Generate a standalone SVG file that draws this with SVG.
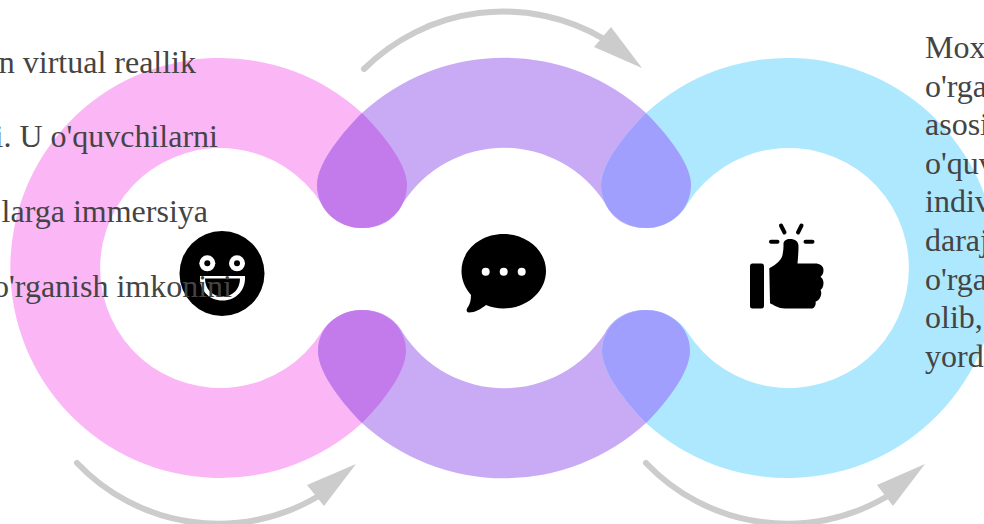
<svg xmlns="http://www.w3.org/2000/svg" width="984" height="524" viewBox="0 0 984 524">
<style>
.t{font-family:"Liberation Serif","Times New Roman",serif;font-size:32px;fill:#444}
.e{text-anchor:end}
.a{fill:none;stroke:#ccc;stroke-width:6;stroke-linecap:round}
.h{fill:#ccc}
.k{fill:#000}
.w{fill:#fff}
.s{fill:none;stroke:#000;stroke-width:4;stroke-linecap:round}
</style>
<rect width="984" height="524" fill="#fff"/>
<g id="ring-1">
<path fill="#fbb6f5" d="M362,113A210,210 0 1 0 362,423C379,406 406,374 406,351C406,327 386,310 362,310C345,310 329,320 321,333A120,120 0 1 1 321,203C329,218 345,228 362,228C387,228 407,209 407,185C407,162 379,130 362,113Z"/>
</g>
<g id="ring-2">
<path fill="#c9abf5" d="M362,113A210,210 0 0 1 646,113C663,130 691,162 691,185C691,209 671,228 646,228C625,228 612,218 605,203A120,120 0 0 0 403,203C396,218 383,228 362,228C337,228 317,209 317,185C317,162 345,130 362,113Z"/>
<path fill="#c9abf5" d="M362,423A210,210 0 0 0 646,423C663,406 690,374 690,351C690,327 670,310 646,310C625,310 612,320 605,333A120,120 0 0 1 403,333C396,320 383,310 362,310C338,310 318,327 318,351C318,374 345,406 362,423Z"/>
</g>
<g id="ring-3">
<path fill="#ade8fe" d="M646,113A210,210 0 1 1 646,423C629,406 602,374 602,351C602,327 622,310 646,310C664,310 680,320 688,333A120,120 0 1 0 688,203C680,218 664,228 646,228C621,228 601,209 601,185C601,162 629,130 646,113Z"/>
</g>
<g id="overlaps">
<path fill="#c37bec" d="M362,113C345,130 317,162 317,185C317,209 337,228 362,228C387,228 407,209 407,185C407,162 379,130 362,113Z"/>
<path fill="#c37bec" d="M362,423C345,406 318,374 318,351C318,327 338,310 362,310C386,310 406,327 406,351C406,374 379,406 362,423Z"/>
<path fill="#a09ffe" d="M646,113C629,130 601,162 601,185C601,209 621,228 646,228C671,228 691,209 691,185C691,162 663,130 646,113Z"/>
<path fill="#a09ffe" d="M646,423C629,406 602,374 602,351C602,327 622,310 646,310C670,310 690,327 690,351C690,374 663,406 646,423Z"/>
</g>
<g id="connectors">
<path class="a" d="M364,69A198,198 0 0 1 604,39"/>
<polygon class="h" points="642,68 611,27 594,47"/>
<path class="a" d="M77,463A195,195 0 0 0 317,497"/>
<polygon class="h" points="356,464 307,485 324,506"/>
<path class="a" d="M646,463A195,195 0 0 0 886,497"/>
<polygon class="h" points="925,464 877,485 893,506"/>
</g>
<g id="icon-smile">
<circle class="k" cx="222" cy="273.5" r="42.5"/>
<circle class="w" cx="207.3" cy="263.3" r="8"/><circle class="k" cx="207.3" cy="263.3" r="3"/>
<circle class="w" cx="237" cy="263.3" r="8"/><circle class="k" cx="237" cy="263.3" r="3"/>
<path class="w" d="M200,276H245C246,290 236,300.500 222.500,300.500C209,300.500 199,290 200,276Z"/>
<path class="k" d="M205,278.500H240C240,289 233,296.500 222.500,296.500C212,296.500 205,289 205,278.500Z"/>
</g>
<g id="icon-speech">
<path class="k" d="M503.500,234C527,234 546,250.500 546,271C546,291.500 527,308.500 503.500,308.500C497,308.500 491,307 486,305C481,309 475,312.500 469,312.500C466,312.500 466,309.500 468,307C470,304 471,300 471,295C465,288 461.500,280 461.500,271C461.500,250.500 480,234 503.500,234Z"/>
<circle class="w" cx="485.700" cy="271.700" r="4"/><circle class="w" cx="503.700" cy="271.700" r="4"/><circle class="w" cx="521.700" cy="271.700" r="4"/>
</g>
<g id="icon-thumb">
<rect class="k" x="750" y="263.500" width="14" height="45" rx="2.500"/>
<path class="k" d="M769.300,268.300C775,265 781,261 782.500,255C783.500,250 783.500,247 783.500,244C783.500,240.500 786.500,239 790,239C795,239 798.500,241.500 798.500,246C798.500,252 798,258 797.500,263.500H815C820,263.500 823.500,266 823.500,270C823.500,273 822.500,275.500 820.500,276.700C822.500,278 823.500,280.500 823.500,283.300C823.500,286.500 822,289 820.500,290C821.500,292 821.500,294.500 820.500,296.700C819.500,299.500 817.500,301 815.500,301.700C816,303 815.500,305 815,306C814,308 813,308.500 811,308.500H785C778,308.500 774,305 770,303.300Z"/>
<path class="s" d="M781,225.500L784.500,232.500M801.500,225.500L798,232.500M771,241.700H777.500M805.500,241.700H812.500"/>
</g>
<g id="text-left">
<text class="t e" x="196" y="72.500">n virtual reallik</text>
<text class="t e" x="218" y="147">i. U o'quvchilarni</text>
<text class="t e" x="208" y="222">larga immersiya</text>
<text class="t e" x="232" y="297">o'rganish imkonini</text>
</g>
<g id="text-right">
<text class="t" x="925" y="58">Mox</text>
<text class="t" x="925" y="97">o'rga</text>
<text class="t" x="925" y="135">asosi</text>
<text class="t" x="925" y="174">o'quv</text>
<text class="t" x="925" y="212">indiv</text>
<text class="t" x="925" y="251">daraj</text>
<text class="t" x="925" y="290">o'rga</text>
<text class="t" x="925" y="328">olib,</text>
<text class="t" x="925" y="367">yord</text>
</g>
</svg>
